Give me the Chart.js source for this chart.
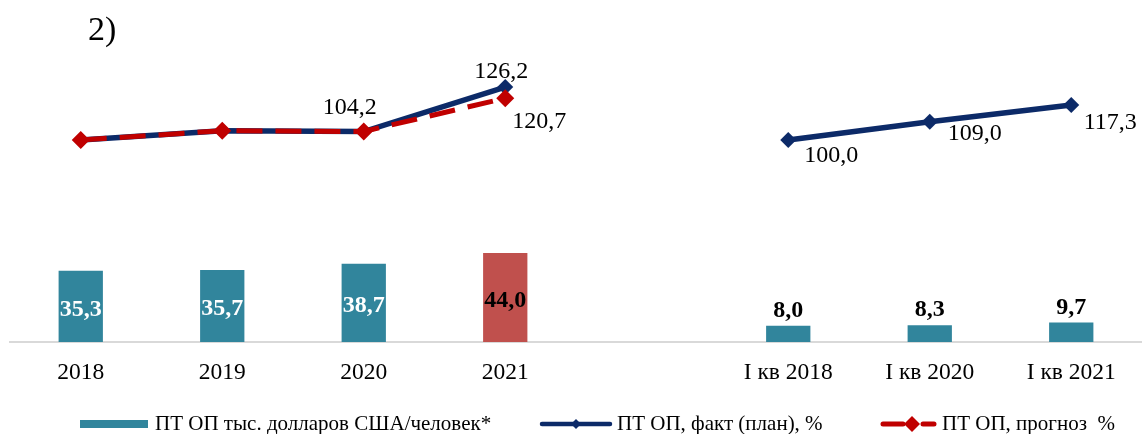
<!DOCTYPE html>
<html><head><meta charset="utf-8">
<script src="https://cdn.jsdelivr.net/npm/chart.js@4/dist/chart.umd.min.js"></script>
<style>html,body{margin:0;padding:0;background:#fff;overflow:hidden}#wrap{position:relative;width:1142px;height:434px}</style>
</head><body><div id="wrap"><canvas id="c" width="1142" height="434"></canvas></div>
<script>
// ---- data ----
const categories = ['2018', '2019', '2020', '2021', '', 'I кв 2018', 'I кв 2020', 'I кв 2021'];
const productivity = [35.3, 35.7, 38.7, 44.0, null, 8.0, 8.3, 9.7];
const factPlan = [100.0, 104.6, 104.2, 126.2, null, 100.0, 109.0, 117.3];
const forecast = [100.0, 104.6, 104.2, 120.7, null, null, null, null];
const factLabelShown = [false, false, true, true, false, true, true, true];
const forecastLabelShown = [false, false, false, true, false, false, false, false];
const seriesNames = ['ПТ ОП тыс. долларов США/человек*', 'ПТ ОП, факт (план), %', 'ПТ ОП, прогноз  %'];
const panelLabel = '2)';

// ---- styles ----
const SERIF = '"Liberation Serif","Times New Roman",serif';
const TEAL = '#31859C', BRICK = '#C0504D', NAVY = '#0C2A68', RED = '#C00000';
const barColors = [TEAL, TEAL, TEAL, BRICK, TEAL, TEAL, TEAL, TEAL];
const barLabelColors = ['#fff', '#fff', '#fff', '#000', '#000', '#000', '#000', '#000'];
const barLabelInside = [true, true, true, true, false, false, false, false];
const factOffsets = [null, null, [-14, -24], [-4, -15], null, [43, 16], [45, 12], [39, 18]];
const forecastOffsets = [null, null, null, [34, 24], null, null, null, null];

const fmt = v => v.toFixed(1).replace('.', ',');

const labelPlugin = {
  id: 'lbl',
  afterDatasetsDraw(chart) {
    const ctx = chart.ctx;
    ctx.save();
    ctx.textAlign = 'center';
    ctx.textBaseline = 'middle';
    const bm = chart.getDatasetMeta(0);
    ctx.font = 'bold 24px ' + SERIF;
    bm.data.forEach((el, i) => {
      const v = productivity[i];
      if (v == null) return;
      ctx.fillStyle = barLabelColors[i];
      const y = barLabelInside[i] ? (el.y + el.base) / 2 + 3 : el.y - 15;
      ctx.fillText(fmt(v), el.x, y);
    });
    ctx.font = '24px ' + SERIF;
    ctx.fillStyle = '#000';
    chart.getDatasetMeta(1).data.forEach((el, i) => {
      if (!factLabelShown[i] || factPlan[i] == null) return;
      const o = factOffsets[i];
      ctx.fillText(fmt(factPlan[i]), el.x + o[0], el.y + o[1]);
    });
    chart.getDatasetMeta(2).data.forEach((el, i) => {
      if (!forecastLabelShown[i] || forecast[i] == null) return;
      const o = forecastOffsets[i];
      ctx.fillText(fmt(forecast[i]), el.x + o[0], el.y + o[1]);
    });
    ctx.restore();
  },
  afterDraw(chart) {
    const ctx = chart.ctx;
    ctx.save();
    // panel label
    ctx.fillStyle = '#000';
    ctx.font = '34px ' + SERIF;
    ctx.textAlign = 'left';
    ctx.textBaseline = 'alphabetic';
    ctx.fillText(panelLabel, 88, 40);
    // legend
    const ly = 424;
    ctx.font = '21px ' + SERIF;
    ctx.textBaseline = 'middle';
    ctx.fillStyle = TEAL;
    ctx.fillRect(80, ly - 4, 68, 8);
    ctx.fillStyle = '#000';
    ctx.fillText(seriesNames[0], 155, ly);
    // navy
    ctx.strokeStyle = NAVY; ctx.lineWidth = 4.5; ctx.lineCap = 'round';
    ctx.beginPath(); ctx.moveTo(542, ly); ctx.lineTo(610, ly); ctx.stroke();
    ctx.fillStyle = NAVY;
    ctx.beginPath(); ctx.moveTo(576, ly - 5); ctx.lineTo(581, ly); ctx.lineTo(576, ly + 5); ctx.lineTo(571, ly); ctx.closePath(); ctx.fill();
    ctx.fillStyle = '#000';
    ctx.fillText(seriesNames[1], 617, ly);
    // red
    ctx.strokeStyle = RED; ctx.lineWidth = 5;
    ctx.beginPath(); ctx.moveTo(883, ly); ctx.lineTo(903, ly); ctx.moveTo(923, ly); ctx.lineTo(934, ly); ctx.stroke();
    ctx.fillStyle = RED;
    ctx.beginPath(); ctx.moveTo(912, ly - 8); ctx.lineTo(920, ly); ctx.lineTo(912, ly + 8); ctx.lineTo(904, ly); ctx.closePath(); ctx.fill();
    ctx.fillStyle = '#000';
    ctx.fillText(seriesNames[2], 942, ly);
    ctx.restore();
  }
};

new Chart(document.getElementById('c'), {
  data: {
    labels: categories,
    datasets: [
      { type: 'bar', label: seriesNames[0], data: productivity, backgroundColor: barColors,
        barPercentage: 0.313, categoryPercentage: 1, order: 3 },
      { type: 'line', label: seriesNames[1], data: factPlan, borderColor: NAVY, borderWidth: 5.5,
        pointStyle: 'rectRot', pointRadius: 8, pointBackgroundColor: NAVY, pointBorderWidth: 0,
        spanGaps: false, tension: 0, order: 2 },
      { type: 'line', label: seriesNames[2], data: forecast, borderColor: RED, borderWidth: 5,
        borderDash: [26, 13], pointStyle: 'rectRot', pointRadius: 9, pointBackgroundColor: RED,
        pointBorderWidth: 0, spanGaps: false, tension: 0, order: 1 }
    ]
  },
  options: {
    responsive: false,
    devicePixelRatio: 1,
    animation: false,
    layout: { autoPadding: false, padding: { left: 10, right: 0, top: 39, bottom: 40 } },
    plugins: { legend: { display: false }, tooltip: { enabled: false } },
    scales: {
      x: {
        type: 'category', offset: true,
        grid: { display: false },
        border: { display: true, color: '#D9D9D9', width: 2 },
        ticks: { font: { family: SERIF, size: 23.5 }, color: '#000', padding: 9, maxRotation: 0, autoSkip: false },
        afterFit(s) { s.height = 52; }
      },
      y: { display: false, min: 0, max: 150 }
    }
  },
  plugins: [labelPlugin]
});
</script></body></html>
